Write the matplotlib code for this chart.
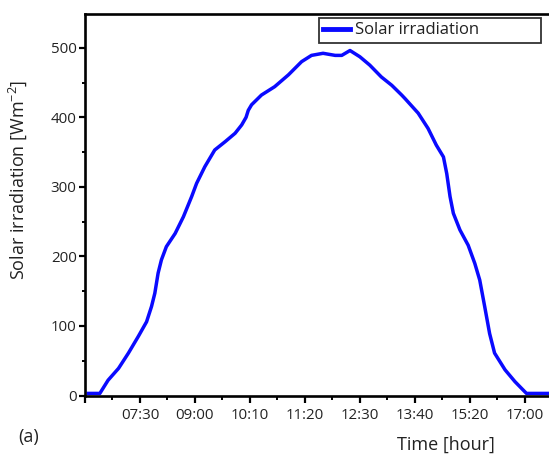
import matplotlib
matplotlib.use("Agg")
import matplotlib.pyplot as plt
from matplotlib.ticker import MultipleLocator

plt.rcParams['font.family'] = ['Open Sans', 'DejaVu Sans']
plt.rcParams['mathtext.fontset'] = 'custom'
plt.rcParams['mathtext.rm'] = 'Open Sans'
plt.rcParams['mathtext.it'] = 'Open Sans:italic'
plt.rcParams['mathtext.bf'] = 'Open Sans:bold'
plt.rcParams['mathtext.default'] = 'rm'

# x positions in units of the labelled tick spacing (samples along the day)
x_pos = [0.06, 0.27, 0.42, 0.61, 0.79, 0.97, 1.12, 1.21, 1.27, 1.33, 1.39, 1.48,
         1.64, 1.79, 1.94, 2.03, 2.18, 2.36, 2.55, 2.73, 2.85, 2.93, 2.97, 3.03,
         3.21, 3.45, 3.70, 3.94, 4.12, 4.33, 4.55, 4.67, 4.82, 5.00, 5.18, 5.39,
         5.58, 5.76, 5.82, 6.06, 6.24, 6.39, 6.52, 6.58, 6.64, 6.70, 6.82, 6.97,
         7.09, 7.18, 7.27, 7.36, 7.45, 7.64, 7.82, 8.03, 8.44]
irradiation = [3, 3, 22, 39, 61, 85, 106, 128, 147, 176, 195, 214,
               233, 257, 286, 305, 329, 353, 365, 377, 389, 400, 410, 418,
               432, 444, 461, 480, 489, 492, 489, 489, 496, 487, 475, 458,
               446, 432, 427, 406, 384, 360, 343, 319, 286, 262, 238, 216,
               190, 166, 128, 89, 61, 37, 20, 3, 3]

tick_positions = [0, 1, 2, 3, 4, 5, 6, 7, 8]
tick_labels = ['', '07:30', '09:00', '10:10', '11:20', '12:30', '13:40', '15:20', '17:00']
y_ticks = [0, 100, 200, 300, 400, 500]

W, H = 549, 455
fig = plt.figure(figsize=(W / 100, H / 100), dpi=100)
ax_left, ax_right, ax_top, ax_bottom = 85, 549, 14, 395.5
ax = fig.add_axes([ax_left / W, (H - ax_bottom) / H,
                   (ax_right - ax_left) / W, (ax_bottom - ax_top) / H])

text_color = '#222222'
ax.plot(x_pos, irradiation, color='#0a0aff', lw=2.5, label='Solar irradiation',
        solid_joinstyle='round')

ax.set_xlim(0, 8.44)
ax.set_ylim(0, 548.5)
ax.set_xticks(tick_positions)
ax.set_xticklabels(tick_labels)
ax.set_yticks(y_ticks)
ax.xaxis.set_minor_locator(MultipleLocator(0.5))
ax.yaxis.set_minor_locator(MultipleLocator(50))

for side in ['left', 'top', 'bottom']:
    ax.spines[side].set_linewidth(1.9)
    ax.spines[side].set_color('black')
ax.spines['right'].set_visible(False)

ax.tick_params(axis='both', which='major', direction='out', width=1.6,
               labelsize=10.8, labelcolor=text_color)
ax.tick_params(axis='y', which='major', length=4, pad=2)
ax.tick_params(axis='y', which='minor', length=2, width=1.4, direction='out')
ax.tick_params(axis='x', which='major', length=5, pad=4)
ax.tick_params(axis='x', which='minor', length=3, width=1.4, direction='out')
ax.tick_params(top=False, right=False, which='both')

# legend box
lx0 = (319 - ax_left) / (ax_right - ax_left)
lx1 = (540.7 - ax_left) / (ax_right - ax_left)
ly_top = (ax_bottom - 18.3) / (ax_bottom - ax_top)
ly_bot = (ax_bottom - 45) / (ax_bottom - ax_top)
leg = ax.legend(loc='upper left', bbox_to_anchor=(lx0, ly_bot, lx1 - lx0, ly_top - ly_bot),
                mode='expand', borderaxespad=0, fancybox=False, frameon=True,
                edgecolor='black', fontsize=12, handlelength=1.6, handletextpad=0.3,
                borderpad=0.25, labelcolor=text_color)
leg.get_frame().set_linewidth(1.3)
leg.get_lines()[0].set_linewidth(3.5)

fig.text(17.5 / W, 1 - 179.5 / H, 'Solar irradiation [Wm$^{-2}$]', rotation=90,
         ha='center', va='center', fontsize=13, color=text_color)
fig.text(445.6 / W, 1 - 445 / H, 'Time [hour]', ha='center', va='center',
         fontsize=13, color=text_color)
fig.text(18 / W, 1 - 437 / H, '(a)', ha='left', va='center', fontsize=13,
         color=text_color)

fig.savefig('out.png', dpi=100)
